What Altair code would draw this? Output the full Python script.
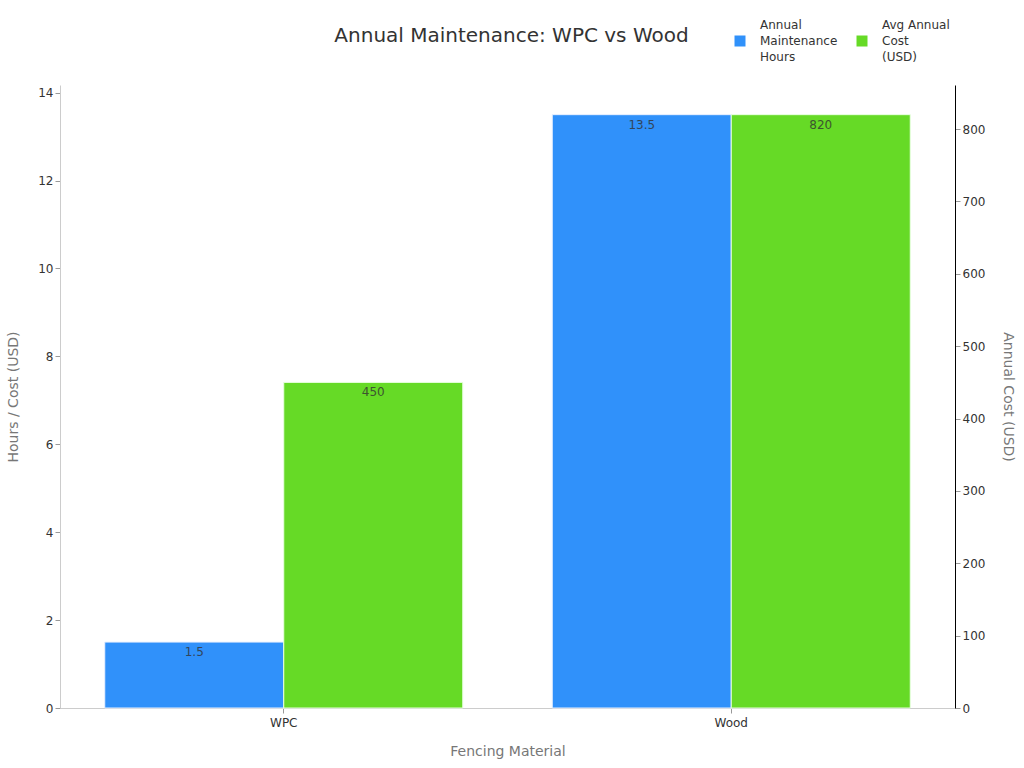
import altair as alt
import pandas as pd

categories = ["WPC", "Wood"]
series = ["Annual Maintenance Hours", "Avg Annual Cost (USD)"]
hours = [1.5, 13.5]
cost = [450, 820]

rows = []
for c, h, k in zip(categories, hours, cost):
    rows.append({"material": c, "series": series[0], "value": h, "label": f"{h:g}"})
    rows.append({"material": c, "series": series[1], "value": k, "label": f"{k:g}"})
df = pd.DataFrame(rows)

FONT = "DejaVu Sans"
blue = "#3091FA"
green = "#66DA26"
LABEL = "#333333"
TITLE = "#777777"

x = alt.X("material:N", title="Fencing Material",
          scale=alt.Scale(domain=categories, paddingInner=0.2, paddingOuter=0.1),
          axis=alt.Axis(labelAngle=0, domainColor="#cccccc", tickColor="#999999",
                        labelColor=LABEL, labelFontSize=12, labelPadding=4,
                        titleColor=TITLE, titleFontSize=14, titleFontWeight="normal",
                        titlePadding=16))
xoff = alt.XOffset("series:N", scale=alt.Scale(domain=series))
color = alt.Color("series:N", scale=alt.Scale(domain=series, range=[blue, green]),
                  legend=alt.Legend(title=None, orient="none", legendX=674, legendY=-66,
                                    direction="horizontal",
                                    symbolType="M-1,1.91H1V3.91H-1Z",
                                    symbolSize=121, symbolStrokeWidth=0,
                                    labelFontSize=12, labelColor=LABEL, labelOffset=14,
                                    labelLimit=300, columnPadding=18,
                                    labelExpr="datum.label == 'Annual Maintenance Hours' ? ['Annual','Maintenance','Hours'] : ['Avg Annual','Cost','(USD)']"))

base = alt.Chart(df)

yl = alt.Y("value:Q", title="Hours / Cost (USD)",
           scale=alt.Scale(domain=[0, 14.175], nice=False),
           axis=alt.Axis(values=list(range(0, 15, 2)), grid=False, domainColor="#cccccc",
                         tickColor="#999999", labelColor=LABEL, labelFontSize=12,
                         titleColor=TITLE, titleFontSize=14, titleFontWeight="normal",
                         titlePadding=17))
yr = alt.Y("value:Q", title="Annual Cost (USD)",
           scale=alt.Scale(domain=[0, 861], nice=False),
           axis=alt.Axis(orient="right", values=list(range(0, 801, 100)), grid=False,
                         domainColor="#000000", tickColor="#999999", labelColor=LABEL,
                         labelFontSize=12, titleColor=TITLE, titleFontSize=14,
                         titleFontWeight="normal", titlePadding=16))

hbase = base.transform_filter(alt.datum.series == series[0])
cbase = base.transform_filter(alt.datum.series == series[1])

bar_h = hbase.mark_bar(stroke="#e8f0ff", strokeWidth=1).encode(x=x, xOffset=xoff, y=yl, color=color)
txt_h = hbase.mark_text(baseline="top", dy=5, fontSize=12, color="#333333", opacity=0.8).encode(
    x=x, xOffset=xoff, y=yl, text="label:N")
bar_c = cbase.mark_bar(stroke="#e8ffe0", strokeWidth=1).encode(x=x, xOffset=xoff, y=yr, color=color)
txt_c = cbase.mark_text(baseline="top", dy=5, fontSize=12, color="#333333", opacity=0.8).encode(
    x=x, xOffset=xoff, y=yr, text="label:N")

chart = alt.layer(alt.layer(bar_h, txt_h), alt.layer(bar_c, txt_c)).resolve_scale(
    y="independent"
).properties(
    width=895, height=623,
    title=alt.TitleParams("Annual Maintenance: WPC vs Wood", fontSize=20,
                          fontWeight="normal", color="#333333", anchor="middle",
                          frame="group", offset=0, dy=27, dx=4),
    autosize=alt.AutoSizeParams(type="none"),
    padding={"left": 60, "top": 85, "right": 69, "bottom": 60},
).configure(
    font=FONT, style={"guide-label": {"lineHeight": 16}}
).configure_view(stroke=None)

chart.save("out.html", embed_options={"renderer": "svg", "actions": False})
